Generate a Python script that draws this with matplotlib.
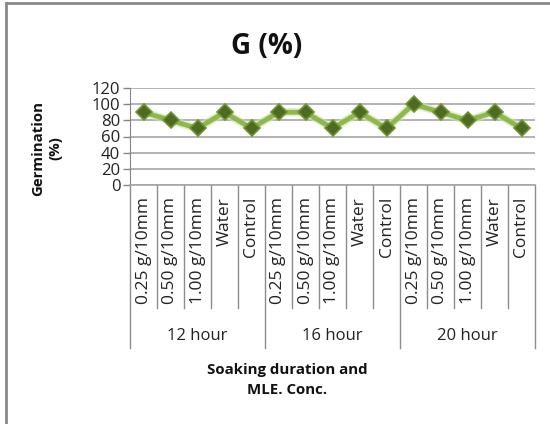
import matplotlib.pyplot as plt
import matplotlib.transforms as mtransforms
import matplotlib.patheffects as pe
import numpy as np

plt.rcParams['font.family'] = ['Open Sans', 'DejaVu Sans']

groups = ['12 hour', '16 hour', '20 hour']
treatments = ['0.25 g/10mm', '0.50 g/10mm', '1.00 g/10mm', 'Water', 'Control']
germination = [90, 80, 70, 90, 70,
               90, 90, 70, 90, 70,
               100, 90, 80, 90, 70]

W, H = 550, 424
fig = plt.figure(figsize=(W / 100, H / 100), dpi=100)

def fy(p):
    # pixel row -> figure fraction
    return 1 - p / H

ax = fig.add_axes([130 / W, fy(185), (535 - 130) / W, (185 - 88) / H])

n = len(germination)
x = np.arange(n) + 0.5
# soft glowing line, then the diamond markers on top
ax.plot(x, germination, color='#8DB84A', lw=3.5, solid_joinstyle='round', zorder=3,
        path_effects=[pe.Stroke(linewidth=6, foreground='#CFE0AE', alpha=0.6), pe.Normal()])
ax.plot(x, germination, ls='none', marker='D', markersize=8.5,
        markerfacecolor='#4E6B22', markeredgecolor='#6F9432', markeredgewidth=1.2, zorder=4)

ax.set_xlim(0, n)
ax.set_ylim(0, 120)
ax.set_yticks(range(0, 121, 20))
ax.yaxis.grid(True, color='#A6A6A6', lw=1.2)
ax.set_axisbelow(True)
ax.tick_params(axis='y', length=5, width=1, color='#868686', labelsize=12, pad=2,
               labelcolor='#222222')
ax.tick_params(axis='x', length=0, labelbottom=False)
for s in ['top', 'right']:
    ax.spines[s].set_visible(False)
ax.spines['left'].set_color('#868686')
ax.spines['bottom'].set_color('#A6A6A6')
ax.spines['bottom'].set_linewidth(1.2)

# multi-level category axis drawn below the plot
tr = mtransforms.blended_transform_factory(ax.transData, fig.transFigure)
sep = '#8C8C8C'
for i in range(n + 1):
    bottom = 348 if i % len(treatments) == 0 else 308
    ax.plot([i, i], [fy(185), fy(bottom)], transform=tr, color=sep, lw=1, clip_on=False)
for i, xi in enumerate(x):
    ax.text(xi, fy(197), treatments[i % len(treatments)], transform=tr, rotation=90,
            ha='center', va='top', fontsize=12.5, color='#222222')
for g, name in enumerate(groups):
    xc = g * len(treatments) + len(treatments) / 2
    ax.text(xc, fy(336), name, transform=tr, ha='center', va='center',
            fontsize=12, color='#222222')

fig.text(267 / W, fy(46), 'G (%)', ha='center', va='center', fontsize=20,
         fontweight='bold', color='#111111')
fig.text(47 / W, fy(148), 'Germination\n(%)', rotation=90, ha='center', va='center',
         multialignment='center', fontsize=10.8, fontweight='bold', color='#111111',
         linespacing=1.3)
fig.text(287 / W, fy(380), 'Soaking duration and\nMLE. Conc.', ha='center', va='center',
         multialignment='center', fontsize=10.8, fontweight='bold', color='#111111',
         linespacing=1.55)

# chart area border
fig.add_artist(plt.Line2D([6 / W, 1], [fy(3), fy(3)], color='#8A8A8A', lw=2))
fig.add_artist(plt.Line2D([6 / W, 6 / W], [fy(3), 0], color='#8A8A8A', lw=2))

fig.savefig('out.png', dpi=100)
